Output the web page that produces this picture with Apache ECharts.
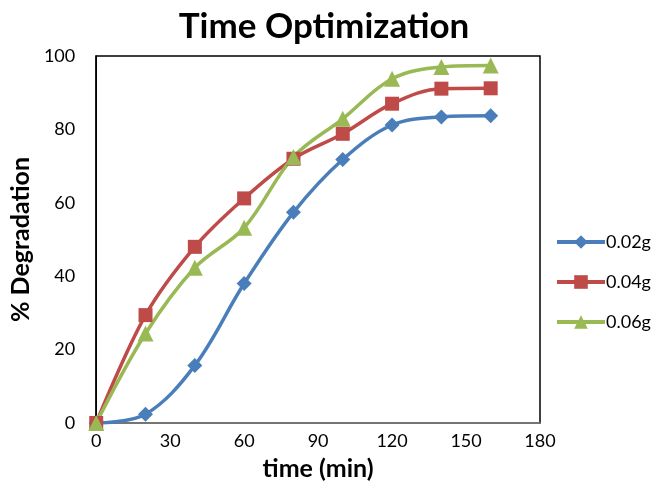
<!DOCTYPE html>
<html>
<head>
<meta charset="utf-8">
<script src="https://cdn.jsdelivr.net/npm/echarts@6/dist/echarts.min.js"></script>
<style>
  html, body { margin: 0; padding: 0; background: #fff; }
  #chart { width: 654px; height: 493px; }
</style>
</head>
<body>
<div id="chart"></div>
<script>
// Reaction time in minutes
const times = [0, 20, 40, 60, 80, 100, 120, 140, 160];
// % degradation for each catalyst dose
const dose002 = [0, 2.4, 15.7, 38.0, 57.4, 71.8, 81.2, 83.4, 83.7];
const dose004 = [0, 29.4, 48.0, 61.2, 72.0, 78.8, 87.0, 91.1, 91.2];
const dose006 = [0, 24.4, 42.3, 53.2, 72.5, 82.9, 93.8, 97.0, 97.4];
const seriesNames = ['0.02g', '0.04g', '0.06g'];
const xTicks = [0, 30, 60, 90, 120, 150, 180];
const yTicks = [0, 20, 40, 60, 80, 100];

const FONT = 'Lato, "Open Sans", sans-serif';
const pairs = vals => times.map((t, i) => [t, vals[i]]);

const chart = echarts.init(document.getElementById('chart'), null, { renderer: 'canvas' });

function lineSeries(name, vals, color, symbol, size) {
  return {
    name, type: 'line', data: pairs(vals),
    smooth: 0.35, symbol, symbolSize: size,
    lineStyle: { color, width: 3.5 },
    itemStyle: { color },
    z: 3
  };
}

chart.setOption({
  animation: false,
  backgroundColor: '#fff',
  title: {
    text: 'Time Optimization',
    left: 324, top: 9, padding: 0, textAlign: 'center',
    textStyle: { fontFamily: FONT, fontWeight: 'bold', fontSize: 35, color: '#000' }
  },
  grid: {
    left: 94, right: 114, top: 56, bottom: 70,
    show: true, borderColor: '#000', borderWidth: 1.5, backgroundColor: '#fff'
  },
  legend: {
    orient: 'vertical', left: 550, top: 228,
    itemWidth: 48, itemHeight: 17, itemGap: 22,
    lineStyle: { width: 4 },
    textStyle: { fontFamily: FONT, fontSize: 18, color: '#000', padding: [0, 0, 0, -4] },
    data: seriesNames
  },
  xAxis: {
    type: 'value', min: xTicks[0], max: xTicks[xTicks.length - 1], interval: 30,
    name: 'time (min)', nameLocation: 'middle', nameGap: 33,
    nameTextStyle: { fontFamily: FONT, fontWeight: 'bold', fontSize: 25, color: '#000' },
    axisLine: { show: true, lineStyle: { color: '#868686', width: 1.5 } },
    axisTick: { show: false },
    splitLine: { show: false },
    axisLabel: { fontFamily: FONT, fontSize: 18, color: '#000', margin: 9 }
  },
  yAxis: {
    type: 'value', min: yTicks[0], max: yTicks[yTicks.length - 1], interval: 20,
    name: '% Degradation', nameLocation: 'middle', nameGap: 58, nameRotate: 90,
    nameTextStyle: { fontFamily: FONT, fontWeight: 'bold', fontSize: 25, color: '#000' },
    axisLine: { show: true, lineStyle: { color: '#000', width: 1.5 } },
    axisTick: { show: false },
    splitLine: { show: false },
    axisLabel: { fontFamily: FONT, fontSize: 18, color: '#000', margin: 21 }
  },
  series: [
    lineSeries(seriesNames[0], dose002, '#4A7EBB', 'diamond', 15),
    lineSeries(seriesNames[1], dose004, '#BE4B48', 'rect', 14),
    lineSeries(seriesNames[2], dose006, '#98B954', 'triangle', 16)
  ]
});
</script>
</body>
</html>
